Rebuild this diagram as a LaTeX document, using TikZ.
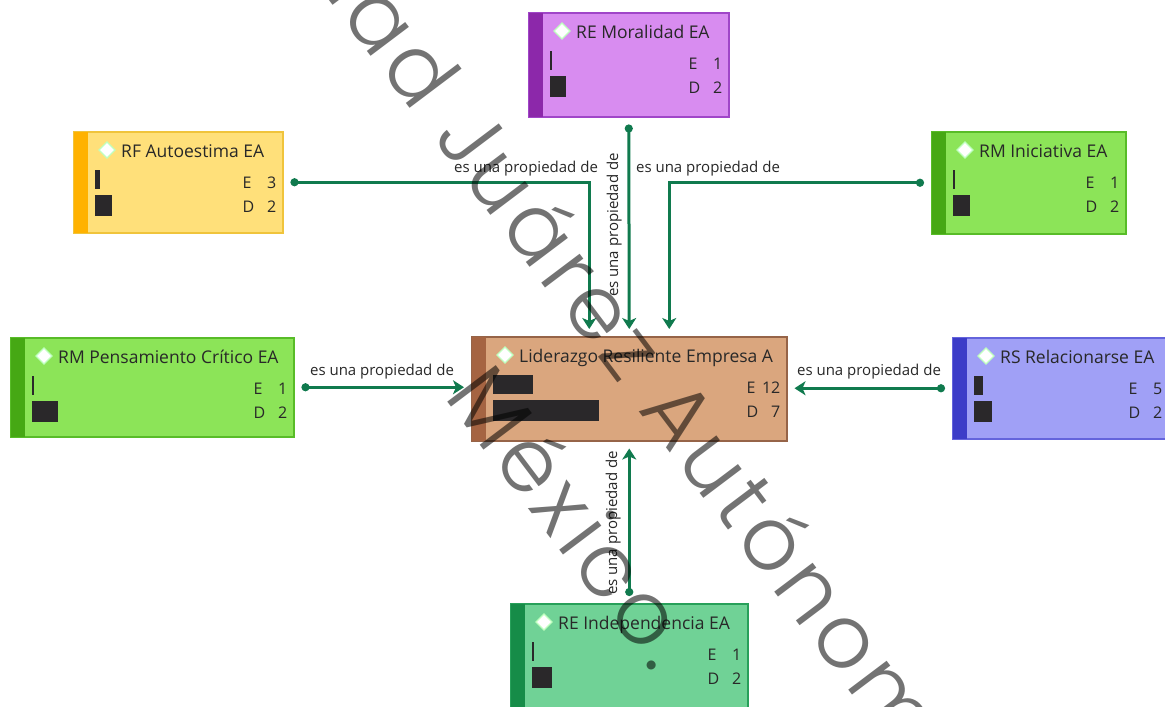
\documentclass[tikz,border=0pt]{standalone}
\usepackage{fontspec}
\setmainfont{Open Sans}
\newfontfamily\markfont[LetterSpace=6]{Poppins Light}
\usetikzlibrary{arrows.meta,calc}

% palette
\definecolor{linkgreen}{RGB}{16,122,78}
\definecolor{barfill}{RGB}{42,40,42}
\definecolor{purfill}{RGB}{216,140,240}
\definecolor{puredge}{RGB}{160,70,200}
\definecolor{purstrip}{RGB}{140,40,170}
\definecolor{yelfill}{RGB}{255,224,122}
\definecolor{yeledge}{RGB}{240,196,60}
\definecolor{yelstrip}{RGB}{255,178,0}
\definecolor{grnfill}{RGB}{140,228,88}
\definecolor{grnedge}{RGB}{88,188,40}
\definecolor{grnstrip}{RGB}{70,168,20}
\definecolor{brnfill}{RGB}{218,166,126}
\definecolor{brnedge}{RGB}{150,100,72}
\definecolor{brnstrip}{RGB}{165,100,66}
\definecolor{blufill}{RGB}{160,160,246}
\definecolor{bluedge}{RGB}{100,100,220}
\definecolor{blustrip}{RGB}{60,60,200}
\definecolor{seafill}{RGB}{112,210,150}
\definecolor{seaedge}{RGB}{40,160,90}
\definecolor{seastrip}{RGB}{22,140,72}
\definecolor{textdark}{RGB}{40,40,40}

\tikzset{
  conceptbox/.style={rectangle, line width=1.5pt, inner sep=0pt},
  titletext/.style={anchor=base west, inner sep=0pt, text=textdark, font=\fontsize{17.5}{20}\selectfont},
  numtext/.style={anchor=base east, inner sep=0pt, text=textdark, font=\fontsize{16}{18}\selectfont},
  lettext/.style={anchor=base west, inner sep=0pt, text=textdark, font=\fontsize{16}{18}\selectfont},
  icon/.style={fill=white, draw=white!75!green, line width=1.2pt},
  bar/.style={fill=barfill},
  link/.style={draw=linkgreen, line width=3pt,
    {Circle[length=8pt]}-{Stealth[length=11pt,width=14pt,inset=3pt]},
    shorten <=7pt, shorten >=7pt},
  lbl/.style={anchor=base, inner sep=0pt, text=textdark, font=\fontsize{15}{17}\selectfont},
  wmark/.style={anchor=base west, inner sep=0pt, text=black, opacity=0.55,
    font=\markfont\fontsize{88}{96}\selectfont, rotate=-53}
}

% concept card: name, x, y, width, height, colour set, title, E value, D value
\newcommand{\concept}[9]{%
  \node[conceptbox, fill=#6fill, draw=#6edge, minimum width=#4pt, minimum height=#5pt, anchor=north west] (#1) at (#2,#3) {};
  \fill[#6strip] ($(#1.north west)+(0.75,0.75)$) rectangle ($(#1.south west)+(15,-0.75)$);
  \filldraw[icon] ($(#1.north west)+(26,19)$) -- ++(8,-8) -- ++(8,8) -- ++(-8,8) -- cycle;
  \node[titletext] (#1-t) at ($(#1.north west)+(48,26)$) {#7};
  \node[lettext] (#1-el) at ($(#1.north east)+(-41,57)$) {E};
  \node[lettext] (#1-dl) at ($(#1.north east)+(-41,81)$) {D};
  \node[numtext] (#1-e) at ($(#1.north east)+(-7,57)$) {#8};
  \node[numtext] (#1-d) at ($(#1.north east)+(-7,81)$) {#9};
}
% the two grounding bars of a card
\newcommand{\cardbars}[3]{%
  \fill[bar] ($(#1.north west)+(22,39)$) rectangle ++(#2,19);
  \fill[bar] ($(#1.north west)+(22,64)$) rectangle ++(#3,21);
}

\begin{document}
\begin{tikzpicture}[x=1pt,y=-1pt]
\useasboundingbox (0,0) rectangle (1165,707);
\clip (0,0) rectangle (1165,707);
\fill[white] (0,0) rectangle (1165,707);

\concept{mor}{528}{12}{200}{104}{pur}{RE Moralidad EA}{1}{2}
\cardbars{mor}{2}{16}
\concept{aut}{73}{131}{209}{101}{yel}{RF Autoestima EA}{3}{2}
\cardbars{aut}{5}{17}
\concept{ini}{931}{131}{194}{102}{grn}{RM Iniciativa EA}{1}{2}
\cardbars{ini}{2}{17}
\concept{pen}{10}{337}{283}{99}{grn}{RM Pensamiento Crítico EA}{1}{2}
\cardbars{pen}{2}{26}
\concept{lid}{471}{336}{315}{104}{brn}{Liderazgo Resiliente Empresa A}{12}{7}
\cardbars{lid}{40}{106}
\concept{rel}{952}{337}{216}{101}{blu}{RS Relacionarse EA}{5}{2}
\cardbars{rel}{9}{18}
\concept{ind}{510}{603}{237}{104}{sea}{RE Independencia EA}{1}{2}
\cardbars{ind}{2}{20}

% relations
\draw[link] (aut.east) -| ($(lid.north)+(-40,0)$);
\draw[link] (mor.south) -- (lid.north);
\draw[link] (ini.west) -| ($(lid.north)+(40,0)$);
\draw[link] (pen.east) -- (pen.east -| lid.west);
\draw[link] (rel.west) -- (rel.west -| lid.east);
\draw[link] (ind.north) -- (lid.south);

\node[lbl] (la) at (526,172) {es una propiedad de};
\node[lbl, rotate=90] (lb) at (618,225) {es una propiedad de};
\node[lbl] (lc) at (708,172) {es una propiedad de};
\node[lbl] (ld) at (382,375) {es una propiedad de};
\node[lbl] (le) at (869,375) {es una propiedad de};
\node[lbl, rotate=90] (lf) at (617,523) {es una propiedad de};

% watermark
\node[wmark] (wm1) at (637,409) {\llap{Universidad Juárez }Autónoma de Tabasco.};
\node[wmark, anchor=base east] (wm2) at (653,674) {México.};
\end{tikzpicture}
\end{document}
